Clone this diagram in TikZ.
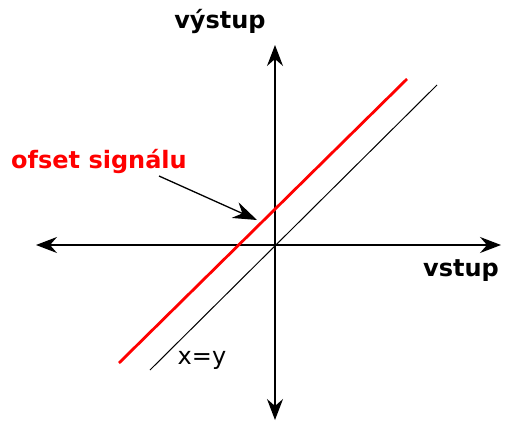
\documentclass[tikz,border=0pt]{standalone}
\usepackage{fontspec}
\setmainfont{DejaVu Sans}
\usetikzlibrary{arrows.meta}
\definecolor{offred}{HTML}{FF0000}

\begin{document}
\begin{tikzpicture}[x=1pt,y=-1pt,
  every node/.style={font=\fontsize{24}{28}\selectfont\bfseries, inner sep=0pt},
  axis/.style={line width=1.3pt, {Stealth[length=21pt,width=16pt,inset=7pt]}-{Stealth[length=21pt,width=16pt,inset=7pt]}}]
\useasboundingbox (0,0) rectangle (505,423);
\coordinate (L) at (36,245);
\coordinate (R) at (501,245);
\coordinate (T) at (275,45);
\coordinate (B) at (275,420);
\coordinate (r1) at (119,363);
\coordinate (r2) at (407,79);
\coordinate (k1) at (150,370);
\coordinate (k2) at (437,85);
\coordinate (tip) at (257,220);
\draw[axis] (L) -- (R);
\draw[axis] (B) -- (T);
\draw[line width=1pt] (k1) -- (k2);
\draw[offred,line width=2.8pt] (r1) -- (r2);
\node (out) at (220,21) {výstup};
\node (in) at (461,271) {vstup};
\node[text=offred] (off) at (99,161) {ofset signálu};
\node[font=\fontsize{24}{28}\selectfont] (xy) at (202,360) {x=y};
\coordinate (from) at (159,176);
\draw[line width=1.3pt,-{Stealth[length=24pt,width=17pt,inset=8pt]}] (from) -- (tip);
\end{tikzpicture}
\end{document}
